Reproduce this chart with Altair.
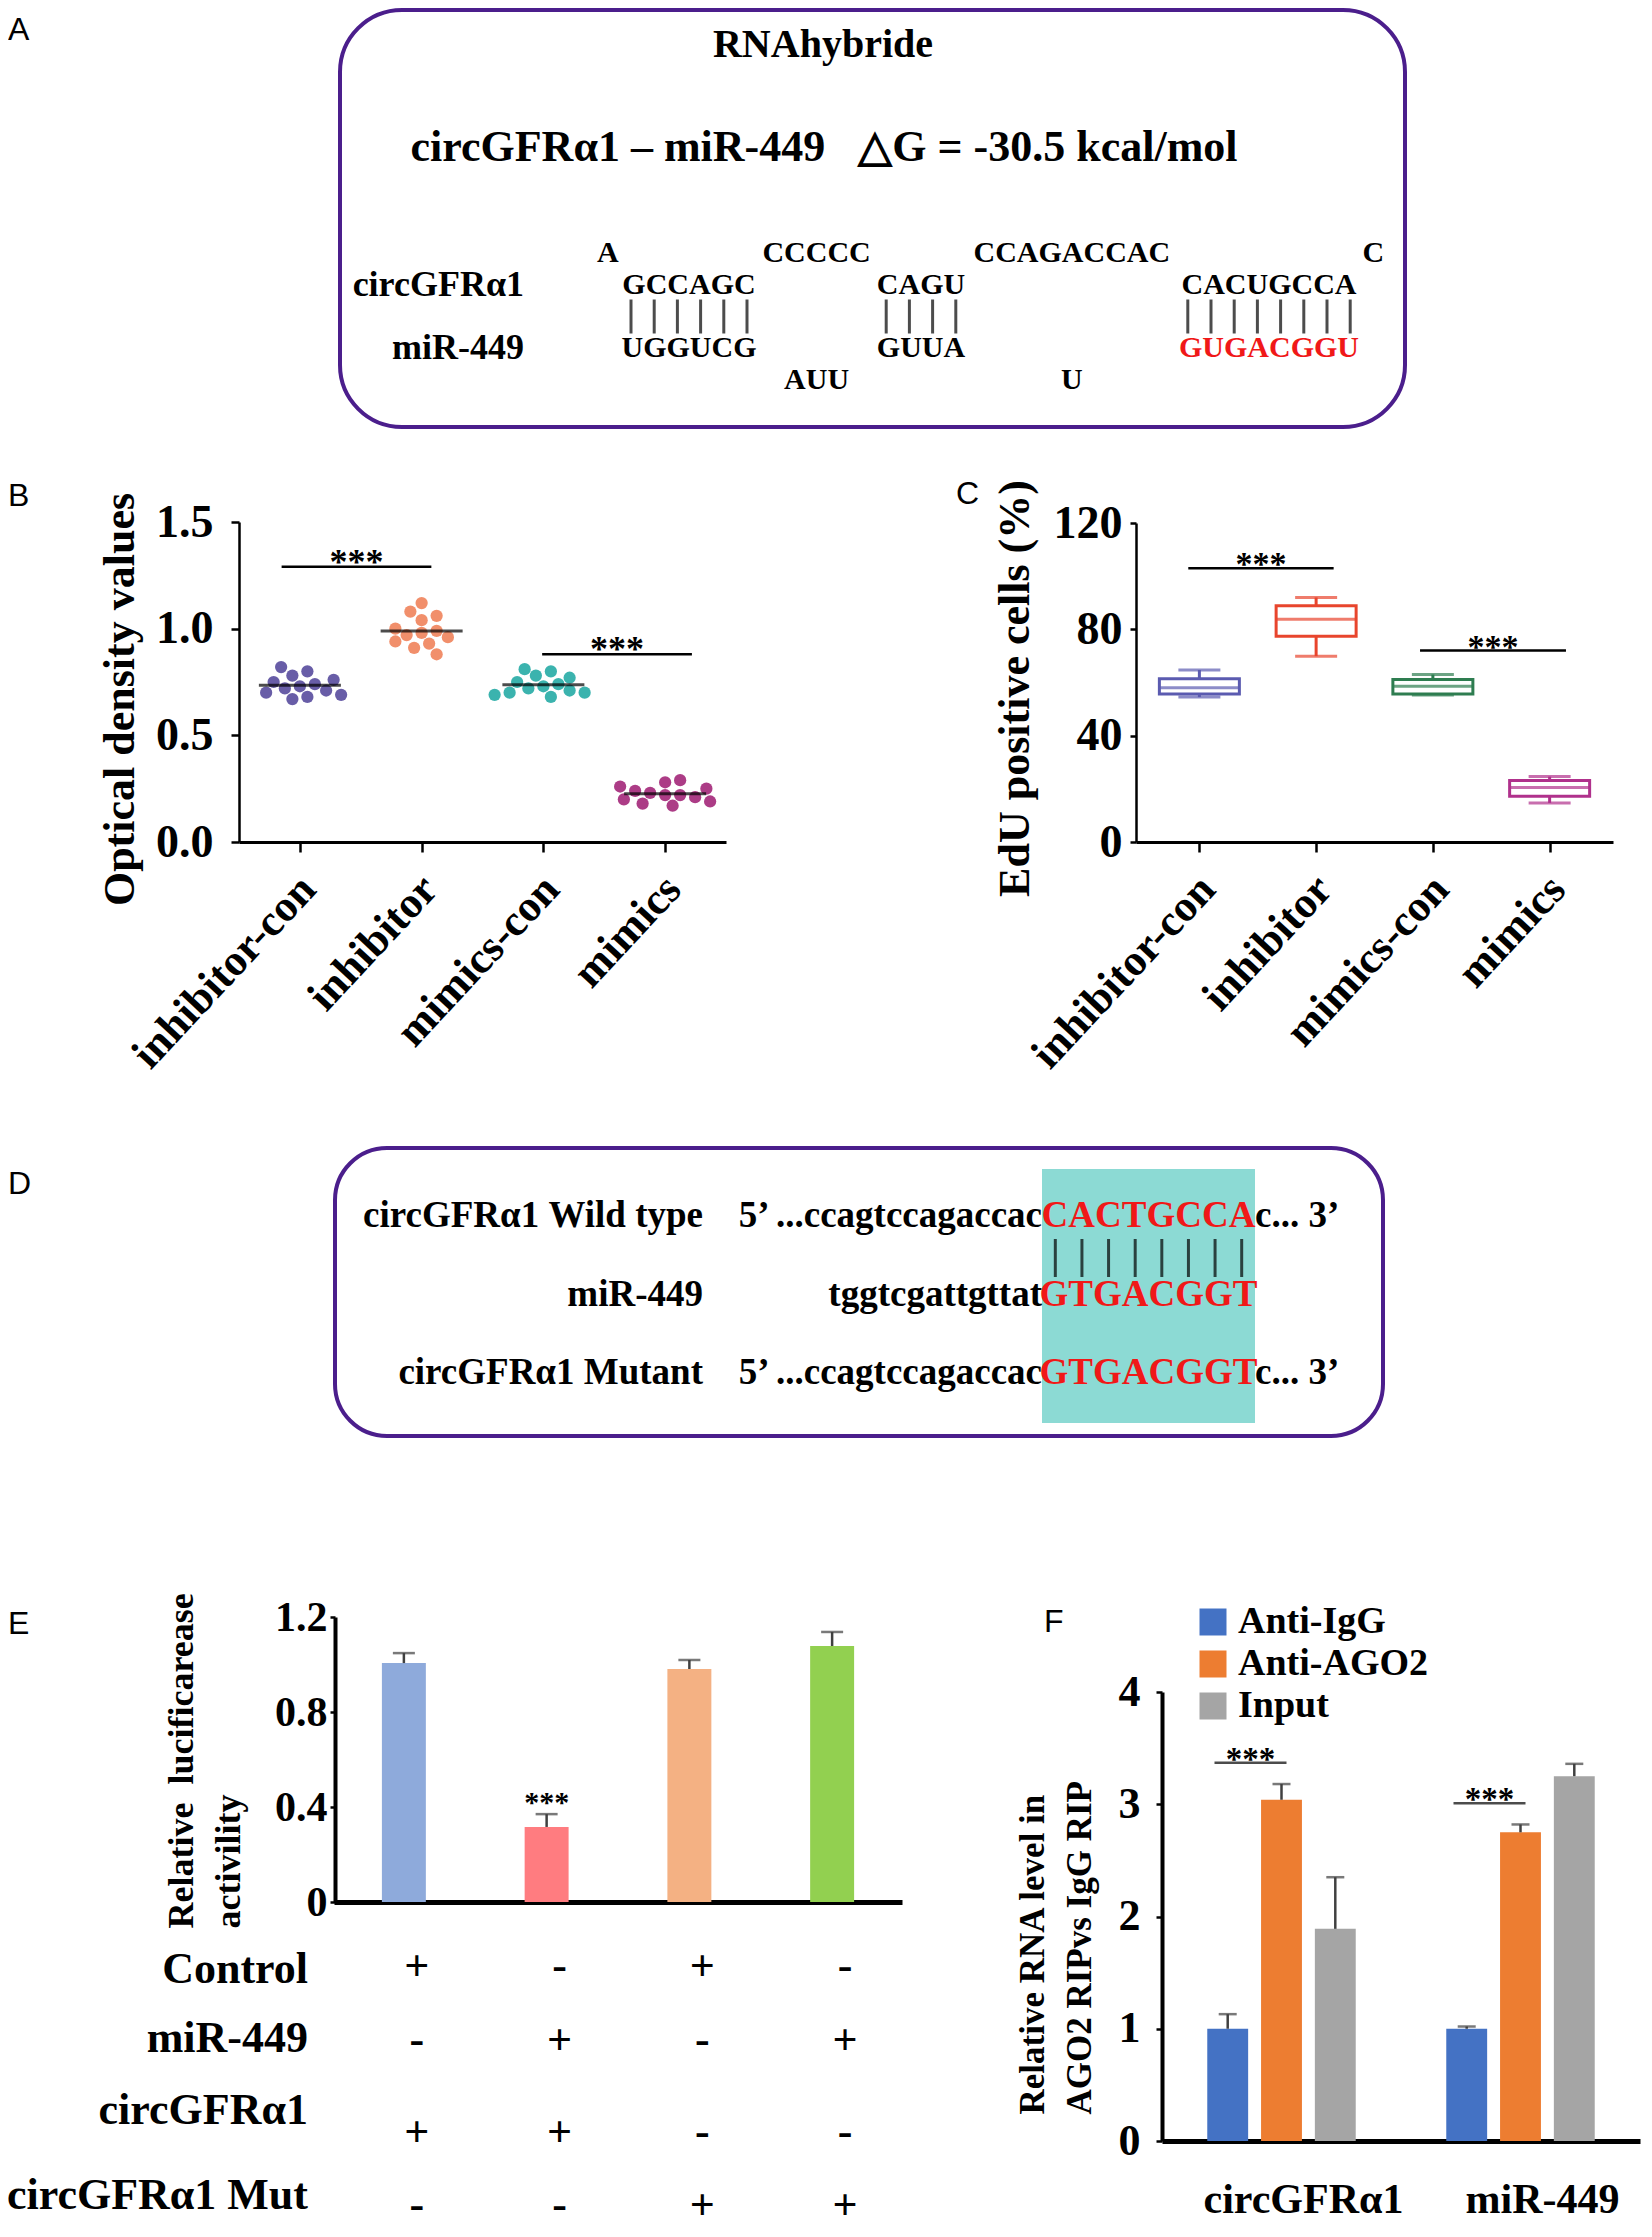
import json
import altair as alt
import pandas as pd

# ---------------------------------------------------------------- layout helpers
MARGIN = 8
W = 1652 - 2 * MARGIN
H = 2237 - 2 * MARGIN
SERIF = "Liberation Serif"
SANS = "Liberation Sans"
BLACK = "black"
PURPLE = "#4b1e8c"
RED = "#f01818"
NBSP = "\u00a0"


def px(v):
    """reference-image pixel -> view pixel"""
    return v - MARGIN


def left_axis(x_ref, **kw):
    d = dict(orient="left", offset=-px(x_ref), grid=False, domainColor=BLACK, tickColor=BLACK,
             labelColor=BLACK, labelFont=SERIF, labelFontWeight="bold", labelOverlap=False,
             labelFlush=False, labelLimit=1000, titleFont=SERIF, titleFontWeight="bold",
             titleColor=BLACK, titleLimit=2000)
    d.update(kw)
    return alt.Axis(**d)


def bottom_axis(y_ref, **kw):
    d = dict(orient="bottom", offset=px(y_ref) - H, grid=False, domainColor=BLACK, tickColor=BLACK,
             labelColor=BLACK, labelFont=SERIF, labelFontWeight="bold", labelOverlap=False,
             labelFlush=False, labelLimit=1000, title=None)
    d.update(kw)
    return alt.Axis(**d)


# ---------------------------------------------------------------- data
# Panel A : RNAhybrid duplex
A_title = "RNAhybride"
A_energy = "circGFRα1 – miR-449" + NBSP * 3 + "△G = -30.5 kcal/mol"
A_rows = ["t_loop", "t_pair", "bond", "m_pair", "m_loop"]
A_row_labels = ["circGFRα1", "miR-449"]
A_row_label_rows = ["t_pair", "m_pair"]
A_segments = ["A", "CCCCC", "CCAGACCAC", "C", "GCCAGC", "CAGU", "CACUGCCA",
              "UGGUCG", "GUUA", "GUGACGGU", "AUU", "U"]
A_seg_rows = ["t_loop"] * 4 + ["t_pair"] * 3 + ["m_pair"] * 3 + ["m_loop"] * 2
A_seg_start = [-1, 6, 15, 32, 0, 11, 24, 0, 11, 24, 7, 19]
A_seg_kind = ["nt"] * 9 + ["seed"] + ["nt"] * 2
A_bond_cols = list(range(0, 6)) + list(range(11, 15)) + list(range(24, 32))

# Panel B : optical density (dot plot)
B_groups = ["inhibitor-con", "inhibitor", "mimics-con", "mimics"]
B_colors = ["#5b4f9f", "#f0865e", "#2aaca7", "#a52b7c"]
B_inhibitor_con = [0.82, 0.80, 0.78, 0.76, 0.75, 0.74, 0.73, 0.72, 0.71, 0.70, 0.69, 0.68, 0.67]
B_inhibitor = [1.12, 1.08, 1.06, 1.04, 1.00, 0.99, 0.98, 0.97, 0.96, 0.94, 0.93, 0.91, 0.88]
B_mimics_con = [0.81, 0.80, 0.78, 0.77, 0.75, 0.74, 0.73, 0.72, 0.71, 0.70, 0.70, 0.69, 0.68]
B_mimics = [0.29, 0.28, 0.26, 0.25, 0.24, 0.23, 0.22, 0.22, 0.21, 0.20, 0.19, 0.18, 0.17]
B_sig_from = [0.35, 2.49]
B_sig_to = [1.58, 3.72]
B_sig_y = [1.29, 0.88]

# Panel C : EdU positive cells (box plot summaries)
C_groups = ["inhibitor-con", "inhibitor", "mimics-con", "mimics"]
C_colors = ["#5b5bb0", "#e8452d", "#2e7d50", "#b0318c"]
C_min = [54.5, 69.9, 55.3, 14.7]
C_q1 = [55.7, 77.4, 55.7, 17.2]
C_med = [58.0, 83.8, 58.6, 20.5]
C_q3 = [61.4, 88.9, 61.1, 23.1]
C_max = [64.7, 92.0, 63.0, 24.6]
C_sig_from = [0.405, 2.39]
C_sig_to = [1.65, 3.64]
C_sig_y = [103, 72]

# Panel D : binding site
D_labels = ["circGFRα1 Wild type", "miR-449", "circGFRα1 Mutant"]
D_rows = ["wt", "mir", "mut"]
D_left = ["5’ ...ccagtccagaccac", "tggtcgattgttat", "5’ ...ccagtccagaccac"]
D_site = ["CACTGCCA", "GTGACGGT", "GTGACGGT"]
D_right = ["c... 3’", "", "c... 3’"]
D_site_len = 8

# Panel E : luciferase
E_bars = ["Control + circGFRα1", "miR-449 + circGFRα1",
          "Control + circGFRα1 Mut", "miR-449 + circGFRα1 Mut"]
E_values = [1.006, 0.316, 0.981, 1.078]
E_err = [0.042, 0.054, 0.038, 0.059]
E_sig = ["", "***", "", ""]
E_colors = ["#8eaadb", "#ff7c80", "#f4b183", "#92d050"]
E_table_rows = ["Control", "miR-449", "circGFRα1", "circGFRα1 Mut"]
E_table = [["+", "-", "+", "-"],
           ["-", "+", "-", "+"],
           ["+", "+", "-", "-"],
           ["-", "-", "+", "+"]]

# Panel F : RIP
F_targets = ["circGFRα1", "miR-449"]
F_series = ["Anti-IgG", "Anti-AGO2", "Input"]
F_colors = ["#4472c4", "#ed7d31", "#a5a5a5"]
F_values = [[1.00, 3.04, 1.89], [1.00, 2.75, 3.25]]
F_err = [[0.13, 0.14, 0.46], [0.02, 0.07, 0.11]]
F_sig_y = [3.37, 3.01]

# ---------------------------------------------------------------- panel letters
LETTERS = ["A", "B", "C", "D", "E", "F"]
LETTER_POS = [(8, 30), (8, 496), (956, 494), (8, 1184), (8, 1624), (1044, 1622)]
one = pd.DataFrame({"k": [0]})
letter_layers = []
for L, (lx, ly) in zip(LETTERS, LETTER_POS):
    letter_layers.append(
        alt.Chart(pd.DataFrame({"t": [L]})).mark_text(
            font=SANS, fontSize=32, align="left", baseline="middle", color=BLACK
        ).encode(text="t:N", x=alt.value(px(lx)), y=alt.value(px(ly)))
    )

# ---------------------------------------------------------------- panel A
A_x = alt.Scale(domain=[0, 32], range=[px(631), px(631 + 32 * 23.2)])
A_y = alt.Scale(type="point", domain=A_rows, range=[px(253), px(380)], padding=0)

a_seg = pd.DataFrame({"seq": A_segments, "row": A_seg_rows, "start": A_seg_start, "kind": A_seg_kind})
a_seg["col"] = a_seg["start"] + (a_seg["seq"].str.len() - 1) / 2
a_bonds = pd.DataFrame({"col": A_bond_cols, "row": ["bond"] * len(A_bond_cols)})
a_lab = pd.DataFrame({"label": A_row_labels, "row": A_row_label_rows})

panelA = alt.layer(
    alt.Chart(one).mark_rect(fill="white", stroke=PURPLE, strokeWidth=4, cornerRadius=62).encode(
        x=alt.value(px(340)), x2=alt.value(px(1405)), y=alt.value(px(10)), y2=alt.value(px(427))),
    alt.Chart(pd.DataFrame({"t": [A_title]})).mark_text(
        font=SERIF, fontWeight="bold", fontSize=40, color=BLACK).encode(
        text="t:N", x=alt.value(px(823)), y=alt.value(px(45))),
    alt.Chart(pd.DataFrame({"t": [A_energy]})).mark_text(
        font=SERIF, fontWeight="bold", fontSize=44, color=BLACK).encode(
        text="t:N", x=alt.value(px(824)), y=alt.value(px(148))),
    alt.Chart(a_lab).mark_text(font=SERIF, fontWeight="bold", fontSize=36, align="right", color=BLACK).encode(
        text="label:N", x=alt.value(px(524)), y=alt.Y("row:N", scale=A_y, axis=None)),
    alt.Chart(a_seg).mark_text(font=SERIF, fontWeight="bold", fontSize=30).encode(
        text="seq:N",
        x=alt.X("col:Q", scale=A_x, axis=None),
        y=alt.Y("row:N", scale=A_y, axis=None),
        color=alt.Color("kind:N", scale=alt.Scale(domain=["nt", "seed"], range=[BLACK, RED]), legend=None)),
    alt.Chart(a_bonds).mark_tick(orient="vertical", size=34, thickness=3, color=BLACK).encode(
        x=alt.X("col:Q", scale=A_x, axis=None), y=alt.Y("row:N", scale=A_y, axis=None)),
)

# ---------------------------------------------------------------- panel B
B_X0, B_X1, B_Y0, B_Y1 = 239, 726, 842, 522
B_STEP = (B_X1 - B_X0) / 4
B_PPU = (B_Y0 - B_Y1) / 1.5


def swarm_offsets(vals, ppu, d):
    med = sorted(vals)[len(vals) // 2]
    order = sorted(range(len(vals)), key=lambda i: abs(vals[i] - med))
    placed, offs = [], [0.0] * len(vals)
    for i in order:
        y = vals[i] * ppu
        k = 0
        while True:
            cands = [0.0] if k == 0 else [k * d * 0.3, -k * d * 0.3]
            ok = None
            for x in cands:
                if all((x - a) ** 2 + (y - b) ** 2 >= d * d * 0.999 for a, b in placed):
                    ok = x
                    break
            if ok is not None:
                break
            k += 1
        placed.append((ok, y))
        offs[i] = ok
    return offs


b_rows = []
for gi, (g, vals) in enumerate(zip(B_groups, [B_inhibitor_con, B_inhibitor, B_mimics_con, B_mimics])):
    offs = swarm_offsets(vals, B_PPU, 12.5)
    for v, o in zip(vals, offs):
        b_rows.append({"group": g, "gi": gi, "v": v, "pos": gi + 0.5 + o / B_STEP})
b_df = pd.DataFrame(b_rows)
b_sig = pd.DataFrame({"x1": B_sig_from, "x2": B_sig_to, "y": B_sig_y, "label": ["***"] * 2})

B_xs = alt.Scale(domain=[0, 4], range=[px(B_X0), px(B_X1)], nice=False, zero=False)
B_ys = alt.Scale(domain=[0, 1.5], range=[px(B_Y0), px(B_Y1)], nice=False)
B_xaxis = bottom_axis(B_Y0, values=[0.5, 1.5, 2.5, 3.5],
                      labelExpr=json.dumps(B_groups) + "[floor(datum.value)]",
                      labelAngle=-47, labelAlign="right", labelBaseline="middle",
                      labelFontSize=44, labelPadding=30, labelOffset=8,
                      tickSize=10, tickWidth=2.5, domainWidth=3)
B_yaxis = left_axis(B_X0, values=[0, 0.5, 1.0, 1.5], format=".1f", labelFontSize=46,
                    tickSize=8, tickWidth=2.5, domainWidth=2.5, labelPadding=18,
                    title="Optical density values", titleFontSize=44, titleAngle=270,
                    titleX=120 - B_X0, titleY=px(699), titleAlign="center", titleBaseline="middle")
STAR = dict(font=SERIF, fontWeight="bold", baseline="alphabetic", color=BLACK)

panelB = alt.layer(
    alt.Chart(b_df).mark_circle(size=150, opacity=0.92).encode(
        x=alt.X("pos:Q", scale=B_xs, axis=B_xaxis),
        y=alt.Y("v:Q", scale=B_ys, axis=B_yaxis),
        color=alt.Color("group:N", scale=alt.Scale(domain=B_groups, range=B_colors), legend=None)),
    alt.Chart(b_df).transform_aggregate(m="mean(v)", groupby=["group", "gi"]).transform_calculate(
        c="datum.gi + 0.5").mark_tick(orient="horizontal", size=82, thickness=3, color=BLACK).encode(
        x=alt.X("c:Q", scale=B_xs, axis=B_xaxis), y=alt.Y("m:Q", scale=B_ys, axis=B_yaxis)),
    alt.Chart(b_sig).mark_rule(color=BLACK, strokeWidth=2.5).encode(
        x=alt.X("x1:Q", scale=B_xs, axis=B_xaxis), x2="x2:Q", y=alt.Y("y:Q", scale=B_ys, axis=B_yaxis)),
    alt.Chart(b_sig).transform_calculate(xm="(datum.x1 + datum.x2) / 2").mark_text(
        fontSize=36, dy=7, **STAR).encode(
        x=alt.X("xm:Q", scale=B_xs, axis=B_xaxis), y=alt.Y("y:Q", scale=B_ys, axis=B_yaxis), text="label:N"),
)

# ---------------------------------------------------------------- panel C
C_X0, C_X1, C_Y0, C_Y1 = 1136, 1613, 842, 523
c_df = pd.DataFrame({"group": C_groups, "gi": range(4), "lo": C_min, "q1": C_q1,
                     "med": C_med, "q3": C_q3, "hi": C_max})
c_df["c"] = c_df["gi"] + 0.5
c_sig = pd.DataFrame({"x1": C_sig_from, "x2": C_sig_to, "y": C_sig_y, "label": ["***"] * 2})

C_xs = alt.Scale(domain=[0, 4], range=[px(C_X0), px(C_X1)], nice=False, zero=False)
C_ys = alt.Scale(domain=[0, 120], range=[px(C_Y0), px(C_Y1)], nice=False)
C_xaxis = bottom_axis(C_Y0, values=[0.5, 1.5, 2.5, 3.5],
                      labelExpr=json.dumps(C_groups) + "[floor(datum.value)]",
                      labelAngle=-47, labelAlign="right", labelBaseline="middle",
                      labelFontSize=44, labelPadding=30, labelOffset=8,
                      tickSize=10, tickWidth=2.5, domainWidth=3)
C_yaxis = left_axis(C_X0, values=[0, 40, 80, 120], format="d", labelFontSize=46,
                    tickSize=6, tickWidth=2.5, domainWidth=2.5, labelPadding=8,
                    title="EdU positive cells (%)", titleFontSize=44, titleAngle=270,
                    titleX=1015 - C_X0, titleY=px(688), titleAlign="center", titleBaseline="middle")
C_color = alt.Color("group:N", scale=alt.Scale(domain=C_groups, range=C_colors), legend=None)

panelC = alt.layer(
    alt.Chart(c_df).mark_rule(strokeWidth=3).encode(
        x=alt.X("c:Q", scale=C_xs, axis=C_xaxis), y=alt.Y("lo:Q", scale=C_ys, axis=C_yaxis), y2="q1:Q",
        color=C_color),
    alt.Chart(c_df).mark_rule(strokeWidth=3).encode(
        x=alt.X("c:Q", scale=C_xs, axis=C_xaxis), y=alt.Y("q3:Q", scale=C_ys, axis=C_yaxis), y2="hi:Q",
        color=C_color),
    alt.Chart(c_df).mark_bar(filled=False, strokeWidth=3, width=80).encode(
        x=alt.X("c:Q", scale=C_xs, axis=C_xaxis), y=alt.Y("q1:Q", scale=C_ys, axis=C_yaxis), y2="q3:Q",
        color=C_color),
    alt.Chart(c_df).mark_tick(orient="horizontal", size=80, thickness=3).encode(
        x=alt.X("c:Q", scale=C_xs, axis=C_xaxis), y=alt.Y("med:Q", scale=C_ys, axis=C_yaxis), color=C_color),
    alt.Chart(c_df).mark_tick(orient="horizontal", size=42, thickness=3).encode(
        x=alt.X("c:Q", scale=C_xs, axis=C_xaxis), y=alt.Y("lo:Q", scale=C_ys, axis=C_yaxis), color=C_color),
    alt.Chart(c_df).mark_tick(orient="horizontal", size=42, thickness=3).encode(
        x=alt.X("c:Q", scale=C_xs, axis=C_xaxis), y=alt.Y("hi:Q", scale=C_ys, axis=C_yaxis), color=C_color),
    alt.Chart(c_sig).mark_rule(color=BLACK, strokeWidth=2.5).encode(
        x=alt.X("x1:Q", scale=C_xs, axis=C_xaxis), x2="x2:Q", y=alt.Y("y:Q", scale=C_ys, axis=C_yaxis)),
    alt.Chart(c_sig).transform_calculate(xm="(datum.x1 + datum.x2) / 2").mark_text(
        fontSize=34, dy=7, **STAR).encode(
        x=alt.X("xm:Q", scale=C_xs, axis=C_xaxis), y=alt.Y("y:Q", scale=C_ys, axis=C_yaxis), text="label:N"),
)

# ---------------------------------------------------------------- panel D
D_x = alt.Scale(domain=[0, D_site_len], range=[px(1042), px(1255)])
D_y = alt.Scale(type="point", domain=D_rows, range=[px(1216), px(1373)], padding=0)
d_df = pd.DataFrame({"label": D_labels, "row": D_rows, "left": D_left, "site": D_site, "right": D_right})
d_site_box = pd.DataFrame({"lo": [0], "hi": [D_site_len]})
d_bonds = pd.DataFrame({"col": [i + 0.5 for i in range(D_site_len)], "row": ["wt"] * D_site_len})
D_TXT = dict(font=SERIF, fontWeight="bold", fontSize=37)

panelD = alt.layer(
    alt.Chart(one).mark_rect(fill="white", stroke=PURPLE, strokeWidth=4, cornerRadius=52).encode(
        x=alt.value(px(335)), x2=alt.value(px(1383)), y=alt.value(px(1148)), y2=alt.value(px(1436))),
    alt.Chart(d_site_box).mark_rect(color="#8cdad4").encode(
        x=alt.X("lo:Q", scale=D_x, axis=None), x2="hi:Q", y=alt.value(px(1169)), y2=alt.value(px(1423))),
    alt.Chart(d_df).mark_text(align="right", color=BLACK, **D_TXT).encode(
        text="label:N", x=alt.value(px(703)), y=alt.Y("row:N", scale=D_y, axis=None)),
    alt.Chart(d_df).mark_text(align="right", color=BLACK, **D_TXT).encode(
        text="left:N", x=alt.XDatum(0, scale=D_x, axis=None), y=alt.Y("row:N", scale=D_y, axis=None)),
    alt.Chart(d_df).mark_text(align="center", color=RED, **D_TXT).encode(
        text="site:N", x=alt.XDatum(D_site_len / 2, scale=D_x, axis=None),
        y=alt.Y("row:N", scale=D_y, axis=None)),
    alt.Chart(d_df).mark_text(align="left", color=BLACK, **D_TXT).encode(
        text="right:N", x=alt.XDatum(D_site_len, scale=D_x, axis=None),
        y=alt.Y("row:N", scale=D_y, axis=None)),
    alt.Chart(d_bonds).mark_tick(orient="vertical", size=38, thickness=3, color=BLACK, yOffset=42).encode(
        x=alt.X("col:Q", scale=D_x, axis=None), y=alt.Y("row:N", scale=D_y, axis=None)),
)

# ---------------------------------------------------------------- panel E
E_X0, E_X1, E_Y0, E_Y1 = 334, 902, 1902, 1617
e_df = pd.DataFrame({"bar": E_bars, "v": E_values, "err": E_err, "sig": E_sig})
E_xs = alt.Scale(type="band", domain=E_bars, range=[px(E_X0), px(E_X1)], paddingInner=0.692,
                 paddingOuter=0.3355)
E_ys = alt.Scale(domain=[0, 1.2], range=[px(E_Y0), px(E_Y1)], nice=False)
E_xaxis = bottom_axis(E_Y0, labels=False, ticks=False, domainWidth=5)
E_yaxis = left_axis(335, values=[0, 0.4, 0.8, 1.2],
                    labelExpr="datum.value == 0 ? '0' : format(datum.value, '.1f')",
                    labelFontSize=42, tickSize=5, tickWidth=2.5, domainWidth=4, labelPadding=3,
                    title=["Relative" + NBSP + " lucificarease", "activility"], titleFontSize=36,
                    titleAngle=270, titleAlign="left", titleBaseline="middle", titleLineHeight=47,
                    titleX=181 - 335, titleY=px(1928))

panelE = alt.layer(
    alt.Chart(e_df).mark_bar().encode(
        x=alt.X("bar:N", scale=E_xs, axis=E_xaxis, sort=E_bars),
        y=alt.Y("v:Q", scale=E_ys, axis=E_yaxis),
        color=alt.Color("bar:N", scale=alt.Scale(domain=E_bars, range=E_colors), legend=None)),
    alt.Chart(e_df).transform_calculate(top="datum.v + datum.err").mark_rule(
        color="#404040", strokeWidth=2.5).encode(
        x=alt.X("bar:N", scale=E_xs, axis=E_xaxis, sort=E_bars),
        y=alt.Y("v:Q", scale=E_ys, axis=E_yaxis), y2="top:Q"),
    alt.Chart(e_df).transform_calculate(top="datum.v + datum.err").mark_tick(
        orient="horizontal", size=22, thickness=2.5, color="#404040").encode(
        x=alt.X("bar:N", scale=E_xs, axis=E_xaxis, sort=E_bars),
        y=alt.Y("top:Q", scale=E_ys, axis=E_yaxis)),
    alt.Chart(e_df).transform_filter("datum.sig != ''").transform_calculate(
        top="datum.v + datum.err").mark_text(fontSize=30, dy=-2, **STAR).encode(
        x=alt.X("bar:N", scale=E_xs, axis=E_xaxis, sort=E_bars),
        y=alt.Y("top:Q", scale=E_ys, axis=E_yaxis), text="sig:N"),
)

# table under panel E (per-row fine vertical nudges in pixels)
T_ys = alt.Scale(type="point", domain=E_table_rows, range=[px(1964), px(2218)], padding=0)
T_xs = alt.Scale(type="band", domain=E_bars, range=[px(E_X0), px(E_X1)], paddingInner=0.692,
                 paddingOuter=0.3355)
T_TXT = dict(font=SERIF, fontWeight="bold", fontSize=44, color=BLACK)
SYM_DY = [3, -8, 0, -12]
LAB_DY = [6, -10, -22, -22]
table_layers = []
for r, row in enumerate(E_table_rows):
    sym_df = pd.DataFrame({"row": [row] * len(E_bars), "bar": E_bars, "sym": E_table[r]})
    table_layers.append(
        alt.Chart(sym_df).mark_text(dx=13, dy=SYM_DY[r], **T_TXT).encode(
            x=alt.X("bar:N", scale=T_xs, axis=None, sort=E_bars),
            y=alt.Y("row:N", scale=T_ys, axis=None), text="sym:N"))
    table_layers.append(
        alt.Chart(pd.DataFrame({"row": [row]})).mark_text(align="right", dy=LAB_DY[r], **T_TXT).encode(
            x=alt.value(px(308)), y=alt.Y("row:N", scale=T_ys, axis=None), text="row:N"))
panelT = alt.layer(*table_layers)

# ---------------------------------------------------------------- panel F
F_X0, F_X1, F_Y0, F_Y1 = 1162, 1640, 2141, 1692
f_rows = []
for ti, t in enumerate(F_targets):
    for si, s in enumerate(F_series):
        f_rows.append({"target": t, "series": s, "v": F_values[ti][si], "err": F_err[ti][si]})
f_df = pd.DataFrame(f_rows)
f_sig = pd.DataFrame({"target": F_targets, "y": F_sig_y, "label": ["***"] * 2})

F_xs = alt.Scale(type="band", domain=F_targets, range=[px(F_X0), px(F_X1)], paddingInner=0.3,
                 paddingOuter=0.15)
F_os = alt.Scale(type="band", domain=F_series, paddingInner=0.24, paddingOuter=0.175)
F_ys = alt.Scale(domain=[0, 4], range=[px(F_Y0), px(F_Y1)], nice=False)
F_xaxis = bottom_axis(F_Y0, ticks=False, domainWidth=5, labelFontSize=42, labelOffset=22,
                      labelPadding=58, labelBaseline="middle", labelAngle=0)
F_yaxis = left_axis(F_X0, values=[0, 1, 2, 3, 4], format="d", labelFontSize=44,
                    tickSize=6, tickWidth=2.5, domainWidth=4, labelPadding=16,
                    title=["Relative RNA level in", "AGO2 RIPvs IgG RIP"], titleFontSize=35,
                    titleAngle=270, titleAlign="left", titleBaseline="middle", titleLineHeight=47,
                    titleX=1032 - F_X0, titleY=px(2114))
F_x = alt.X("target:N", scale=F_xs, axis=F_xaxis, sort=F_targets)
F_off = alt.XOffset("series:N", scale=F_os, sort=F_series)

panelF = alt.layer(
    alt.Chart(f_df).mark_bar().encode(
        x=F_x, xOffset=F_off, y=alt.Y("v:Q", scale=F_ys, axis=F_yaxis),
        color=alt.Color("series:N", sort=F_series,
                        scale=alt.Scale(domain=F_series, range=F_colors),
                        legend=alt.Legend(title=None, orient="none", legendX=px(1194), legendY=px(1603),
                                          direction="vertical", symbolType="square", symbolSize=729,
                                          symbolStrokeWidth=0, labelFont=SERIF, labelFontWeight="bold",
                                          labelFontSize=38, labelColor=BLACK, labelOffset=6,
                                          labelLimit=600, rowPadding=4, padding=0))),
    alt.Chart(f_df).transform_calculate(top="datum.v + datum.err").mark_rule(
        color="#404040", strokeWidth=2.5).encode(
        x=F_x, xOffset=F_off, y=alt.Y("v:Q", scale=F_ys, axis=F_yaxis), y2="top:Q"),
    alt.Chart(f_df).transform_calculate(top="datum.v + datum.err").mark_tick(
        orient="horizontal", size=18, thickness=2.5, color="#404040").encode(
        x=F_x, xOffset=F_off, y=alt.Y("top:Q", scale=F_ys, axis=F_yaxis)),
    alt.Chart(f_sig).mark_tick(orient="horizontal", size=72, thickness=2.5, color=BLACK, xOffset=-31).encode(
        x=F_x, y=alt.Y("y:Q", scale=F_ys, axis=F_yaxis)),
    alt.Chart(f_sig).mark_text(fontSize=33, dx=-31, dy=7, **STAR).encode(
        x=F_x, y=alt.Y("y:Q", scale=F_ys, axis=F_yaxis), text="label:N"),
)

# ---------------------------------------------------------------- assemble
chart = alt.layer(
    *letter_layers, panelA, panelB, panelC, panelD, panelE, panelT, panelF
).resolve_scale(
    x="independent", y="independent", color="independent"
).resolve_axis(
    x="independent", y="independent"
).resolve_legend(
    color="independent"
).properties(
    width=W, height=H, padding=0, autosize=alt.AutoSizeParams(type="none"), background="white"
).configure_view(stroke=None)

chart.save("out.html", embed_options={"renderer": "svg", "actions": False})
